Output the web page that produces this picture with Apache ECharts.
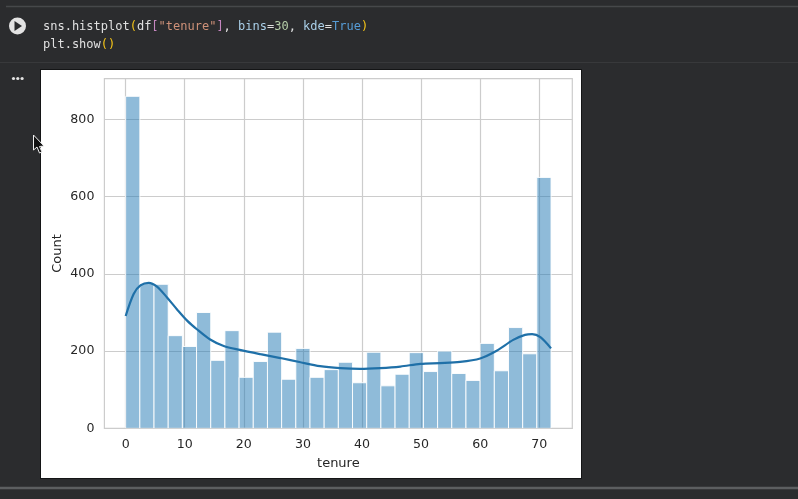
<!DOCTYPE html>
<html lang="en">
<head>
  <meta charset="UTF-8">
  <title>tenure histplot</title>
  <script src="https://cdn.jsdelivr.net/npm/echarts@6/dist/echarts.min.js"></script>
  <style>
    html, body { margin: 0; padding: 0; background: #2b2c2e; }
    #box { width: 798px; height: 499px; }
  </style>
</head>
<body>
<div id="box"></div>
<script>
  // bin counts, left to right (30 bins over 0-72)
  var binCounts = [860, 375, 373, 240, 212, 300, 176, 253, 132, 173,
                   249, 127, 207, 132, 152, 171, 118, 197, 110, 140,
                   196, 147, 200, 142, 124, 220, 149, 261, 193, 650];
  var tenureMax = 72;
  // kde curve
  var kdeTenure = [0, 1.35, 2.5, 3.9, 5.3, 7, 8.7, 10.4, 12.1, 14.3, 16.6, 19.3, 22.8, 26.2, 29.6,
                   32.9, 36.3, 39.7, 43.1, 46.5, 49.9, 53.2, 56.6, 60, 62.8, 65.6, 67.6, 68.8, 70.2, 72];
  var kdeCount = [291, 348, 370, 377, 367, 339, 308, 279, 256, 230, 213, 203, 192, 182, 171,
                  161, 156, 154, 156, 160, 167, 169, 172, 181, 201, 229, 242, 244, 236, 207];
  var xTicks = [0, 10, 20, 30, 40, 50, 60, 70];
  var yTicks = [0, 200, 400, 600, 800];

  var binWidth = tenureMax / binCounts.length;
  var binData = binCounts.map(function (c, i) {
    return [i * binWidth, (i + 1) * binWidth, c];
  });
  var kdeData = kdeTenure.map(function (t, i) {
    return [t, kdeCount[i]];
  });

  var myChart = echarts.init(document.getElementById('box'), null, {renderer: 'canvas'});

  var tickFont = {color: '#262626', fontSize: 12.6, fontFamily: 'DejaVu Sans'};
  var nameFont = {color: '#262626', fontSize: 13, fontFamily: 'DejaVu Sans'};
  var gridLine = {show: true, lineStyle: {color: '#cccccc', width: 1.2}};

  var code = {fontFamily: 'DejaVu Sans Mono', fontSize: 12, lineHeight: 18};
  function codeStyle(color) {
    return {fill: color, fontFamily: code.fontFamily, fontSize: code.fontSize, lineHeight: code.lineHeight};
  }

  var option = {
    backgroundColor: '#2b2c2e',
    animation: false,
    grid: {
      left: 104.4, right: 225.7, top: 78.7, bottom: 70.7,
      show: true, borderColor: '#cccccc', borderWidth: 1.2
    },
    xAxis: {
      type: 'value', min: -3.6, max: 75.6,
      name: 'tenure', nameLocation: 'middle', nameGap: 29,
      nameMoveOverlap: false,
      nameTextStyle: nameFont,
      axisLine: {show: false},
      axisTick: {show: false, customValues: xTicks},
      axisLabel: {
        color: tickFont.color, fontSize: tickFont.fontSize, fontFamily: tickFont.fontFamily, margin: 10,
        customValues: xTicks
      },
      splitLine: gridLine
    },
    yAxis: {
      type: 'value', min: 0, max: 905.7,
      name: 'Count', nameLocation: 'middle', nameGap: 40,
      nameMoveOverlap: false,
      nameTextStyle: nameFont,
      axisLine: {show: false},
      axisTick: {show: false, customValues: yTicks},
      axisLabel: {
        color: tickFont.color, fontSize: tickFont.fontSize, fontFamily: tickFont.fontFamily, margin: 10,
        padding: [2, 0, 0, 0],
        customValues: yTicks
      },
      splitLine: gridLine
    },
    series: [
      {
        name: 'tenure',
        type: 'custom',
        data: binData,
        encode: {x: [0, 1], y: 2},
        clip: true,
        z: 3,
        renderItem: function (params, api) {
          var p0 = api.coord([api.value(0), api.value(2)]);
          var p1 = api.coord([api.value(1), 0]);
          return {
            type: 'rect',
            shape: {x: p0[0], y: p0[1], width: p1[0] - p0[0], height: p1[1] - p0[1]},
            style: {fill: 'rgba(31,119,180,0.5)', stroke: 'rgba(255,255,255,0.9)', lineWidth: 1}
          };
        }
      },
      {
        name: 'kde',
        type: 'line',
        data: kdeData,
        smooth: 0.3,
        showSymbol: false,
        z: 4,
        lineStyle: {color: '#1f70a8', width: 2.2}
      }
    ],
    graphic: [
      // notebook chrome
      {type: 'rect', z: -1, shape: {x: 41, y: 70, width: 540, height: 408}, style: {fill: '#ffffff'}},
      {type: 'rect', z: -2, shape: {x: 40, y: 69, width: 542, height: 410}, style: {fill: '#141516'}},
      {type: 'line', shape: {x1: 6, y1: 6.5, x2: 798, y2: 6.5}, style: {stroke: '#46484a', lineWidth: 1.5}},
      {type: 'line', shape: {x1: 0, y1: 62.5, x2: 798, y2: 62.5}, style: {stroke: '#38393b', lineWidth: 1}},
      {type: 'line', shape: {x1: 0, y1: 488, x2: 798, y2: 488}, style: {stroke: '#5c5e60', lineWidth: 2.5}},
      // run button
      {type: 'circle', shape: {cx: 17.5, cy: 26, r: 8.5}, style: {fill: '#e3e3e3'}},
      {type: 'polygon', shape: {points: [[14.5, 21], [22, 26], [14.5, 31]]}, style: {fill: '#2b2c2e'}},
      // output menu dots
      {type: 'circle', shape: {cx: 13.5, cy: 78.5, r: 1.6}, style: {fill: '#e3e3e3'}},
      {type: 'circle', shape: {cx: 17.8, cy: 78.5, r: 1.6}, style: {fill: '#e3e3e3'}},
      {type: 'circle', shape: {cx: 22.1, cy: 78.5, r: 1.6}, style: {fill: '#e3e3e3'}},
      // mouse pointer
      {type: 'polygon', shape: {points: [[33.5, 135], [33.5, 150], [37, 147], [39.5, 153], [42, 152], [39.5, 146.5], [44, 146]]},
        style: {fill: '#111111', stroke: '#f0f0f0', lineWidth: 1}},
      // code lines
      {
        type: 'text', x: 43, y: 18,
        style: {
          text: '{w|sns.histplot}{y|(}{w|df}{p|[}{s|"tenure"}{p|]}{w|, }{b|bins}{w|=}{n|30}{w|, }{b|kde}{w|=}{k|True}{y|)}',
          fontFamily: code.fontFamily, fontSize: code.fontSize,
          rich: {
            w: codeStyle('#e0e0e0'), y: codeStyle('#f5c518'), p: codeStyle('#c586c0'),
            s: codeStyle('#ce9178'), b: codeStyle('#a9cfe8'), n: codeStyle('#b5cea8'), k: codeStyle('#569cd6')
          }
        }
      },
      {
        type: 'text', x: 43, y: 36,
        style: {
          text: '{w|plt.show}{y|()}',
          fontFamily: code.fontFamily, fontSize: code.fontSize,
          rich: {w: codeStyle('#e0e0e0'), y: codeStyle('#f5c518')}
        }
      }
    ]
  };

  myChart.setOption(option);
</script>
</body>
</html>
